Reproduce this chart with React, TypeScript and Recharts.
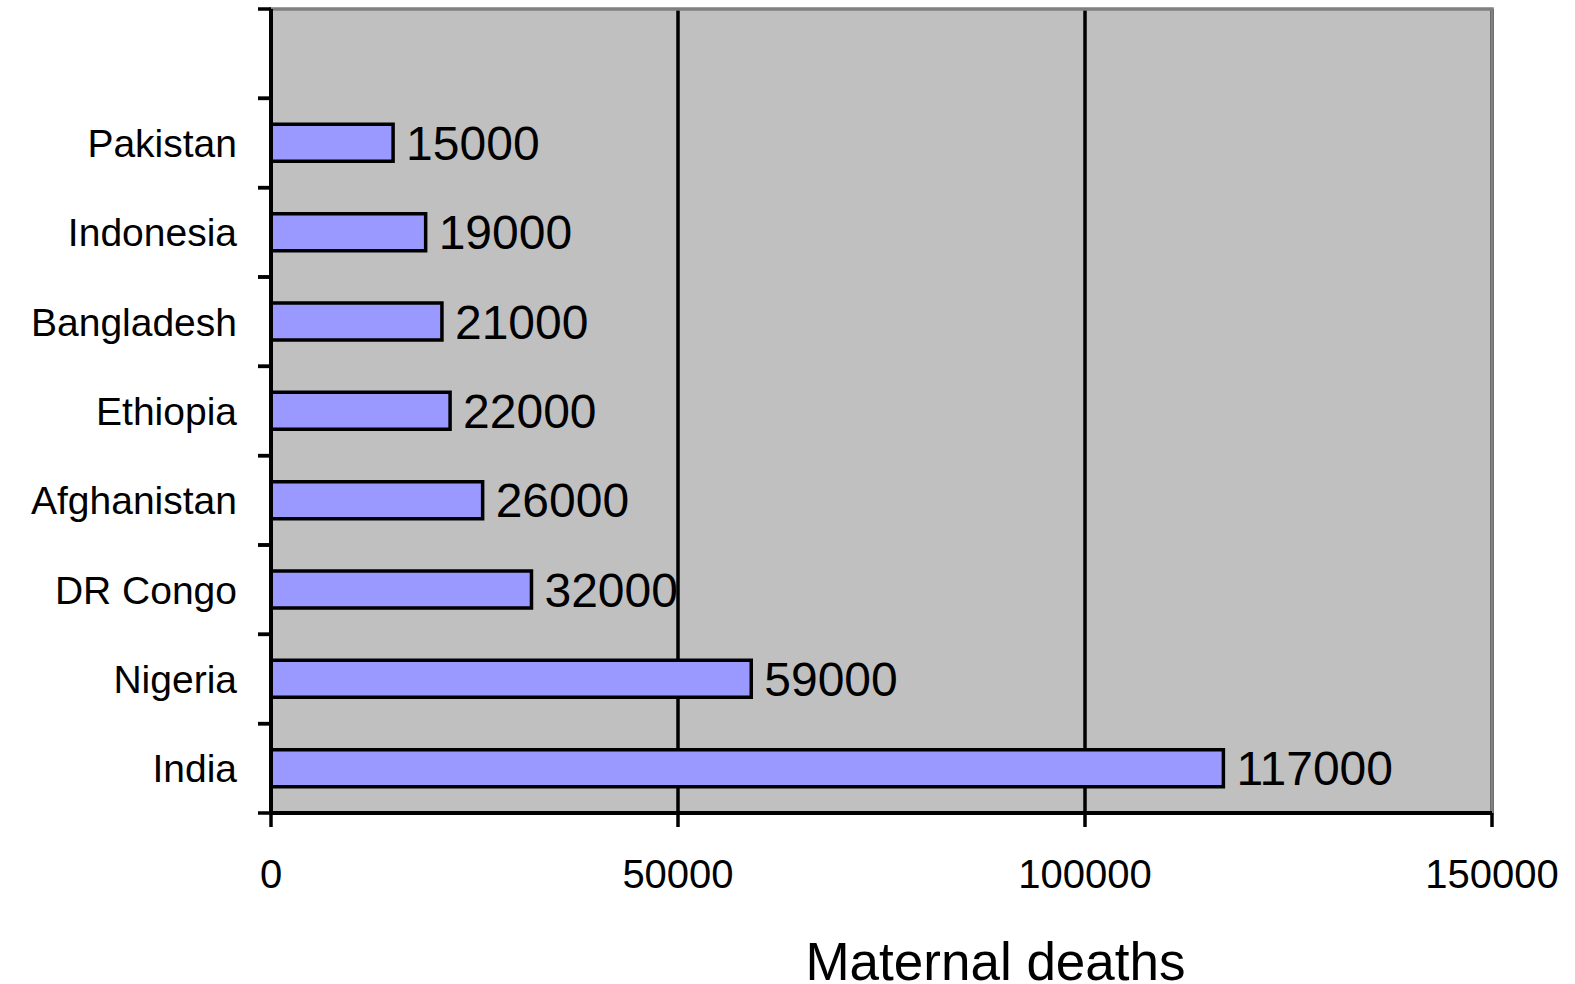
import { BarChart, Bar, XAxis, YAxis, CartesianGrid, ReferenceArea, LabelList, Label } from "recharts";

const categories = ["", "Pakistan", "Indonesia", "Bangladesh", "Ethiopia", "Afghanistan", "DR Congo", "Nigeria", "India"];
const deaths = [null, 15000, 19000, 21000, 22000, 26000, 32000, 59000, 117000];
const xTicks = [0, 50000, 100000, 150000];

const W = 1575;
const H = 984;
const TOP = 9;
const X_AXIS_H = 171;
const Y_AXIS_W = 271;
const BAND = (H - TOP - X_AXIS_H) / categories.length;
const FONT = "'Liberation Sans', Arial, sans-serif";

const data = categories.map((name, i) => ({ name, value: deaths[i] }));

// category label plus tick marks on the band edges (Excel style)
function CountryTick(props: any) {
  const { x, y, payload } = props;
  const axisX = x + 34;
  return (
    <g>
      <line x1={axisX - 13} x2={axisX} y1={y - BAND / 2} y2={y - BAND / 2} stroke="#000" strokeWidth={3.5} />
      <line x1={axisX - 13} x2={axisX} y1={y + BAND / 2} y2={y + BAND / 2} stroke="#000" strokeWidth={3.5} />
      <text x={x} y={y} dy="0.36em" textAnchor="end" fontSize={39} fill="#000" fontFamily={FONT}>
        {payload.value}
      </text>
    </g>
  );
}

export default function App() {
  return (
    <div style={{ position: "absolute", left: 0, top: 0, width: W, height: H, background: "#fff" }}>
      <BarChart
        width={W}
        height={H}
        data={data}
        layout="vertical"
        margin={{ top: TOP, right: 83, bottom: 0, left: 0 }}
        barCategoryGap={0}
      >
        <CartesianGrid horizontal={false} stroke="#000" strokeWidth={3.5} fill="#C0C0C0" fillOpacity={1} />
        <ReferenceArea x1={0} x2={150000} fill="none" fillOpacity={0} stroke="#808080" strokeWidth={3.5} />
        <XAxis
          type="number"
          domain={[0, 150000]}
          ticks={xTicks}
          height={X_AXIS_H}
          tickSize={14}
          tickMargin={33}
          axisLine={{ stroke: "#000", strokeWidth: 4 }}
          tickLine={{ stroke: "#000", strokeWidth: 3.5 }}
          tick={{ fontSize: 40, fill: "#000", fontFamily: FONT }}
          interval={0}
        >
          <Label
            content={({ viewBox }: any) => (
              <text
                x={viewBox.x + viewBox.width / 2 + 114}
                y={viewBox.y + 167}
                textAnchor="middle"
                fontSize={53}
                fill="#000"
                fontFamily={FONT}
              >
                Maternal deaths
              </text>
            )}
          />
        </XAxis>
        <YAxis
          type="category"
          dataKey="name"
          width={Y_AXIS_W}
          tickSize={0}
          tickMargin={34}
          tickLine={false}
          axisLine={{ stroke: "#000", strokeWidth: 4 }}
          tick={<CountryTick />}
          interval={0}
        />
        <Bar dataKey="value" fill="#9999FF" stroke="#000" strokeWidth={3.5} barSize={37} isAnimationActive={false}>
          <LabelList
            dataKey="value"
            position="right"
            offset={13}
            fontSize={48}
            fill="#000"
            fontFamily={FONT}
          />
        </Bar>
      </BarChart>
    </div>
  );
}
